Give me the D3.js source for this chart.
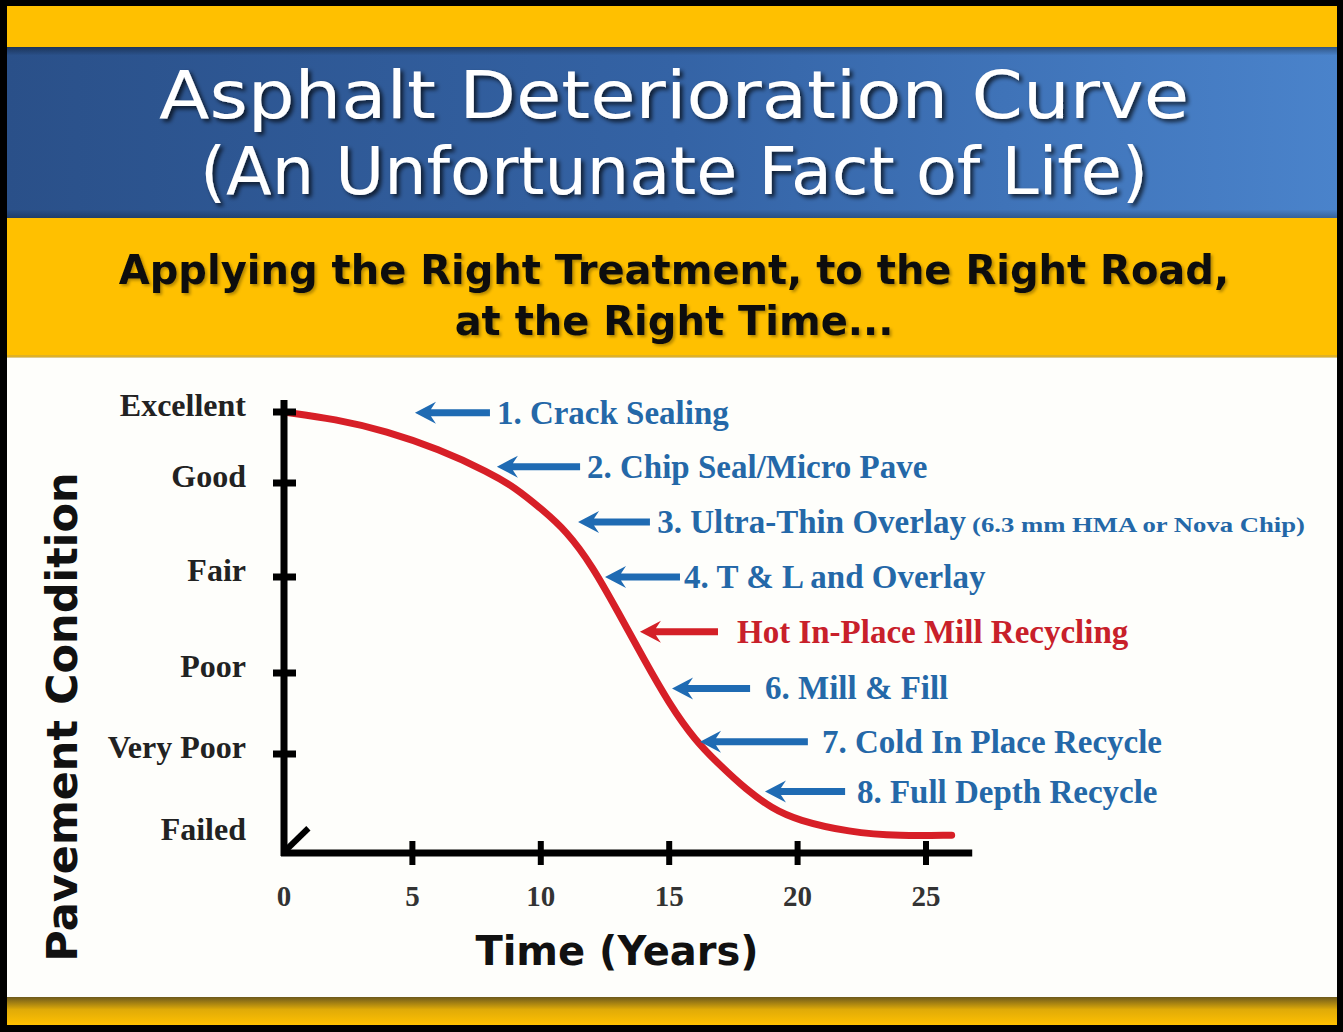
<!DOCTYPE html>
<html>
<head>
<meta charset="utf-8">
<script src="https://cdn.jsdelivr.net/npm/d3@7"></script>
<style>
  html, body { margin: 0; padding: 0; background: #000; }
  svg { display: block; }
</style>
</head>
<body>
<div id="chart"></div>
<script>
// ---------------- DATA ----------------
const titleLines = ["Asphalt Deterioration Curve", "(An Unfortunate Fact of Life)"];
const subtitleLines = ["Applying the Right Treatment, to the Right Road,", "at the Right Time..."];
const xTitle = "Time (Years)";
const yTitle = "Pavement Condition";

const conditionLabels = ["Failed", "Very Poor", "Poor", "Fair", "Good", "Excellent"];
const conditionTicks = [1, 2, 3, 4, 5];
const xTicks = [0, 5, 10, 15, 20, 25];

// deterioration curve (years, condition level 0=Failed ... 5=Excellent)
const curveYears     = [0,    2,    4,    6,    8,    9,    10,   11,   12,   13,   14,   15,   16,   17,   18,   19,   20,   22,   24,   26];
const curveCondition = [5.0,  4.90, 4.73, 4.48, 4.15, 3.95, 3.73, 3.49, 3.12, 2.64, 2.15, 1.62, 1.17, 0.88, 0.64, 0.45, 0.33, 0.21, 0.17, 0.18];

// treatments
const treatmentLabels = ["1. Crack Sealing", "2. Chip Seal/Micro Pave", "3. Ultra-Thin Overlay", "4. T & L and Overlay",
                         "Hot In-Place Mill Recycling", "6. Mill & Fill", "7. Cold In Place Recycle", "8. Full Depth Recycle"];
const treatmentNotes = ["", "", "(6.3 mm HMA or Nova Chip)", "", "", "", "", ""];
const treatmentTipYear  = [5.10, 8.29, 11.45, 12.50, 13.86, 15.11, 16.20, 18.73];
const treatmentTailYear = [8.02, 11.53, 14.25, 15.42, 16.90, 18.15, 20.40, 21.85];
const treatmentTextYear = [8.29, 11.80, 14.53, 15.58, 17.64, 18.73, 20.95, 22.31];
const treatmentLevel    = [4.99, 4.23, 3.585, 3.0, 2.43, 1.81, 1.15, 0.62];
const treatmentHighlight = [false, false, false, false, true, false, false, false];

// ---------------- LAYOUT ----------------
const W = 1343, H = 1032;
const svg = d3.select("#chart").append("svg").attr("width", W).attr("height", H);
const defs = svg.append("defs");

const blueGrad = defs.append("linearGradient").attr("id", "blueGrad").attr("x1", "0").attr("x2", "1").attr("y1", "0").attr("y2", "0");
blueGrad.append("stop").attr("offset", "0").attr("stop-color", "#2a5089");
blueGrad.append("stop").attr("offset", "0.5").attr("stop-color", "#3463a5");
blueGrad.append("stop").attr("offset", "1").attr("stop-color", "#4a83cb");

const blueV = defs.append("linearGradient").attr("id", "blueV").attr("x1", "0").attr("x2", "0").attr("y1", "0").attr("y2", "1");
blueV.append("stop").attr("offset", "0").attr("stop-color", "#000").attr("stop-opacity", 0.35);
blueV.append("stop").attr("offset", "0.05").attr("stop-color", "#000").attr("stop-opacity", 0.0);
blueV.append("stop").attr("offset", "0.95").attr("stop-color", "#000").attr("stop-opacity", 0.0);
blueV.append("stop").attr("offset", "1").attr("stop-color", "#000").attr("stop-opacity", 0.25);

const botShade = defs.append("linearGradient").attr("id", "botShade").attr("x1", "0").attr("x2", "0").attr("y1", "0").attr("y2", "1");
botShade.append("stop").attr("offset", "0").attr("stop-color", "#6e5a1c");
botShade.append("stop").attr("offset", "0.45").attr("stop-color", "#e0ab08");
botShade.append("stop").attr("offset", "1").attr("stop-color", "#ffc000");

const shadow = defs.append("filter").attr("id", "shadow").attr("x", "-10%").attr("y", "-20%").attr("width", "120%").attr("height", "150%");
shadow.append("feDropShadow").attr("dx", 3).attr("dy", 3).attr("stdDeviation", 2).attr("flood-color", "#000").attr("flood-opacity", 0.7);
const shadowSoft = defs.append("filter").attr("id", "shadowSoft").attr("x", "-10%").attr("y", "-20%").attr("width", "120%").attr("height", "150%");
shadowSoft.append("feDropShadow").attr("dx", 2).attr("dy", 2).attr("stdDeviation", 1.5).attr("flood-color", "#000").attr("flood-opacity", 0.3);

// frame & bands
svg.append("rect").attr("x", 0).attr("y", 0).attr("width", W).attr("height", H).attr("fill", "#000");
svg.append("rect").attr("x", 7).attr("y", 6).attr("width", 1330).attr("height", 1019).attr("fill", "#fefefb");
svg.append("rect").attr("x", 7).attr("y", 6).attr("width", 1330).attr("height", 42).attr("fill", "#ffc000");
svg.append("rect").attr("x", 7).attr("y", 47).attr("width", 1330).attr("height", 171).attr("fill", "url(#blueGrad)");
svg.append("rect").attr("x", 7).attr("y", 47).attr("width", 1330).attr("height", 171).attr("fill", "url(#blueV)");
svg.append("rect").attr("x", 7).attr("y", 218).attr("width", 1330).attr("height", 139).attr("fill", "#ffc000");
svg.append("rect").attr("x", 7).attr("y", 355).attr("width", 1330).attr("height", 3).attr("fill", "#c9a640").attr("opacity", 0.6);
svg.append("rect").attr("x", 7).attr("y", 997).attr("width", 1330).attr("height", 28).attr("fill", "url(#botShade)");

// title
const titleWidths = [1030, 948];
svg.append("g").attr("filter", "url(#shadow)")
  .selectAll("text").data(titleLines).join("text")
  .attr("x", 674).attr("y", (d, i) => 118 + i * 76)
  .attr("text-anchor", "middle")
  .attr("font-family", "DejaVu Sans, Verdana, sans-serif")
  .attr("font-size", 65)
  .attr("textLength", (d, i) => titleWidths[i])
  .attr("lengthAdjust", "spacingAndGlyphs")
  .attr("fill", "#ffffff")
  .text(d => d);

// subtitle
svg.append("g").attr("filter", "url(#shadowSoft)")
  .selectAll("text").data(subtitleLines).join("text")
  .attr("x", 674).attr("y", (d, i) => 284 + i * 51)
  .attr("text-anchor", "middle")
  .attr("font-family", "DejaVu Sans, Verdana, sans-serif")
  .attr("font-weight", "bold")
  .attr("font-size", 40)
  .attr("fill", "#111")
  .text(d => d);

// scales
const x = d3.scaleLinear().domain([0, 25]).range([284, 926]);
const y = d3.scaleLinear().domain([0, 1, 2, 3, 4, 5]).range([853, 754, 673, 577, 483, 412]);

const g = svg.append("g");

// curve
const line = d3.line().x((d, i) => x(curveYears[i])).y(d => y(d)).curve(d3.curveBasis);
g.append("path").datum(curveCondition)
  .attr("d", line)
  .attr("fill", "none")
  .attr("stroke", "#d71f27")
  .attr("stroke-width", 7)
  .attr("stroke-linecap", "round");

// axes
g.append("line").attr("x1", x(0)).attr("x2", x(0)).attr("y1", y(5) - 12).attr("y2", y(0) + 3)
  .attr("stroke", "#000").attr("stroke-width", 7);
g.append("line").attr("x1", x(0) - 3).attr("x2", x(26.8)).attr("y1", y(0)).attr("y2", y(0))
  .attr("stroke", "#000").attr("stroke-width", 7);
// axis break mark
g.append("line").attr("x1", x(0)).attr("y1", y(0) - 1).attr("x2", x(0.95)).attr("y2", y(0.25))
  .attr("stroke", "#000").attr("stroke-width", 6);

// y ticks
g.selectAll(".ytick").data(conditionTicks).join("line").attr("class", "ytick")
  .attr("x1", x(0) - 11).attr("x2", x(0) + 12)
  .attr("y1", d => y(d)).attr("y2", d => y(d))
  .attr("stroke", "#000").attr("stroke-width", 7);
// x ticks
g.selectAll(".xtick").data(xTicks.slice(1)).join("line").attr("class", "xtick")
  .attr("x1", d => x(d)).attr("x2", d => x(d))
  .attr("y1", y(0) - 12).attr("y2", y(0) + 12)
  .attr("stroke", "#000").attr("stroke-width", 6);

// y labels
g.selectAll(".ylab").data(conditionLabels).join("text").attr("class", "ylab")
  .attr("x", 246)
  .attr("y", (d, i) => i === 0 ? y(0) - 13 : y(i) + 4)
  .attr("text-anchor", "end")
  .attr("font-family", "Liberation Serif, Times New Roman, serif")
  .attr("font-weight", "bold")
  .attr("font-size", 32)
  .attr("fill", "#222")
  .text(d => d);

// x labels
g.selectAll(".xlab").data(xTicks).join("text").attr("class", "xlab")
  .attr("x", d => x(d))
  .attr("y", 906)
  .attr("text-anchor", "middle")
  .attr("font-family", "Liberation Serif, Times New Roman, serif")
  .attr("font-weight", "bold")
  .attr("font-size", 29)
  .attr("fill", "#333")
  .text(d => d);

// axis titles
g.append("text").attr("x", 617).attr("y", 965)
  .attr("text-anchor", "middle")
  .attr("font-family", "DejaVu Sans, Verdana, sans-serif")
  .attr("font-weight", "bold").attr("font-size", 40).attr("fill", "#111")
  .text(xTitle);
g.append("text").attr("transform", "translate(77,717) rotate(-90)")
  .attr("text-anchor", "middle")
  .attr("font-family", "DejaVu Sans, Verdana, sans-serif")
  .attr("font-weight", "bold").attr("font-size", 43).attr("fill", "#111")
  .text(yTitle);

// treatment arrows & labels
const blue = "#1f6bb3", red = "#d42027";
const tg = g.selectAll(".treat").data(treatmentLabels).join("g").attr("class", "treat");
tg.append("path")
  .attr("d", (d, i) => {
    const x0 = x(treatmentTipYear[i]), x1 = x(treatmentTailYear[i]), yy = y(treatmentLevel[i]);
    return `M${x0},${yy} L${x0 + 21},${yy - 11} L${x0 + 16},${yy - 3.5} L${x1},${yy - 3.5} L${x1},${yy + 3.5} L${x0 + 16},${yy + 3.5} L${x0 + 21},${yy + 11} Z`;
  })
  .attr("fill", (d, i) => treatmentHighlight[i] ? red : blue);
tg.append("text")
  .attr("class", "tlab")
  .attr("x", (d, i) => x(treatmentTextYear[i]))
  .attr("y", (d, i) => y(treatmentLevel[i]) + 11)
  .attr("font-family", "Liberation Serif, Times New Roman, serif")
  .attr("font-weight", "bold")
  .attr("font-size", 33)
  .attr("fill", (d, i) => treatmentHighlight[i] ? "#c8202a" : "#2468a8")
  .text(d => d);
// small notes after the label
tg.each(function(d, i) {
  if (!treatmentNotes[i]) return;
  const t = d3.select(this).select("text.tlab");
  const endX = x(treatmentTextYear[i]) + t.node().getComputedTextLength();
  d3.select(this).append("text")
    .attr("x", endX + 6)
    .attr("y", y(treatmentLevel[i]) + 10)
    .attr("font-family", "Liberation Serif, Times New Roman, serif")
    .attr("font-weight", "bold")
    .attr("font-size", 21)
    .attr("textLength", 1305 - endX - 6)
    .attr("lengthAdjust", "spacingAndGlyphs")
    .attr("fill", "#2468a8")
    .text(treatmentNotes[i]);
});
</script>
</body>
</html>
